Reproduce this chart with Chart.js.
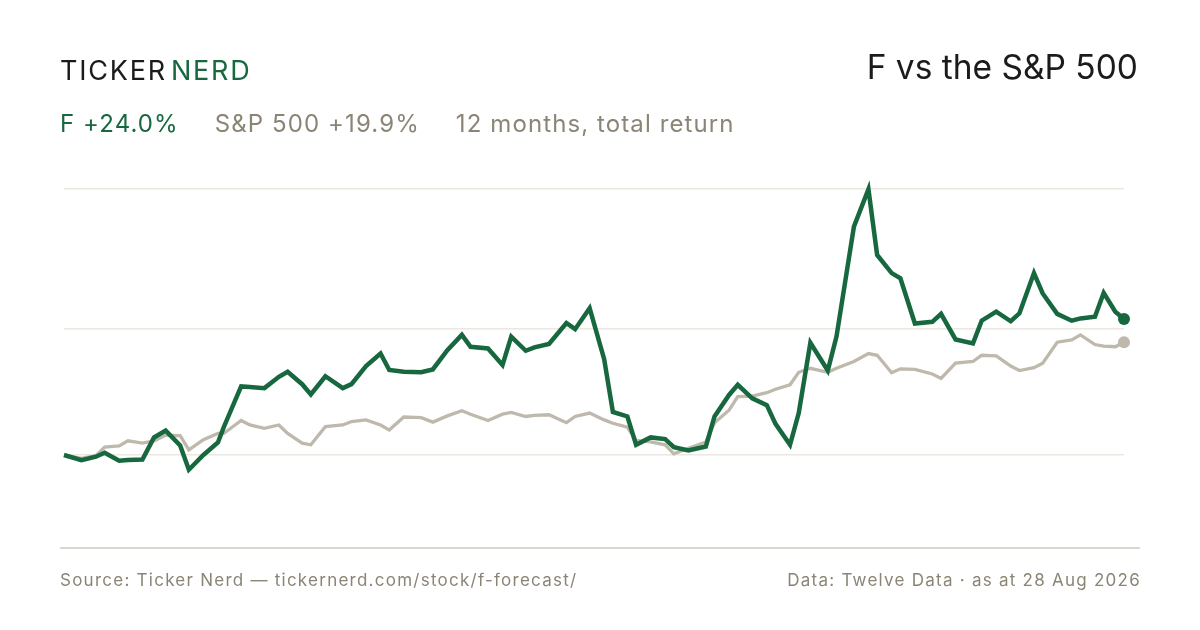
<!DOCTYPE html>
<html lang="en">
<head>
  <meta charset="UTF-8">
  <title>F vs the S&amp;P 500</title>
  <script src="https://cdn.jsdelivr.net/npm/chart.js@4.4.1/dist/chart.umd.min.js"></script>
  <style>
    html, body {
      margin: 0;
      padding: 0;
      background: #ffffff;
    }
    .card {
      position: relative;
      width: 1200px;
      height: 630px;
      overflow: hidden;
      font-family: "Inter", "Liberation Sans", sans-serif;
    }
    #chart {
      position: absolute;
      left: 0;
      top: 0;
    }
    .txt {
      position: absolute;
      line-height: 1;
      white-space: nowrap;
    }
    .logo { left: 60px; top: 57px; font-size: 27px; letter-spacing: 1.8px; color: #1b1b1b; }
    .logo .nerd { color: #17683f; margin-left: 4px; }
    .title { right: 62px; top: 51px; font-size: 33.5px; color: #1b1b1b; }
    .sub { left: 60px; top: 112px; font-size: 24px; letter-spacing: 1.1px; color: #8b8576; }
    .sub span { margin-right: 36px; }
    .sub .f { color: #17683f; }
    .rule { position: absolute; left: 60px; top: 547px; width: 1080px; height: 1.5px; background: #dcd8cf; }
    .foot { top: 572px; font-size: 17px; letter-spacing: 1.25px; color: #8b8576; }
    .foot.left { left: 60px; }
    .foot.right { right: 59px; }
  </style>
</head>
<body>
  <div class="card">
    <canvas id="chart" width="1200" height="630"></canvas>
    <div class="txt logo">TICKER<span class="nerd">NERD</span></div>
    <div class="txt title">F vs the S&amp;P 500</div>
    <div class="txt sub"><span class="f">F +24.0%</span><span>S&amp;P 500 +19.9%</span><span>12 months, total return</span></div>
    <div class="rule"></div>
    <div class="txt foot left">Source: Ticker Nerd — tickernerd.com/stock/f-forecast/</div>
    <div class="txt foot right">Data: Twelve Data · as at 28 Aug 2026</div>
  </div>

  <script>
    // calendar days since 28 Aug 2025
    const days = [
      0, 6, 11, 14, 19, 22, 27, 31, 35, 40, 43, 48, 53, 55, 61, 64, 69, 74, 77, 82,
      85, 90, 96, 99, 104, 109, 112, 117, 123, 127, 132, 137, 140, 146, 151, 154, 159, 162, 167, 173,
      176, 181, 186, 189, 194, 197, 202, 207, 210, 215, 221, 224, 229, 232, 237, 242, 245, 250, 253, 257,
      263, 266, 272, 277, 280, 285, 288, 293, 299, 302, 307, 313, 316, 321, 326, 329, 334, 337, 342, 347,
      350, 355, 358, 362, 365
    ];

    // total return, %
    const fReturn = [
      0, -0.9, -0.3, 0.4, -1.0, -0.9, -0.8, 3.1, 4.3, 1.7, -2.6, 0.0, 2.2, 4.9, 12.1, 12.0, 11.8, 13.8, 14.7, 12.5,
      10.7, 13.9, 11.8, 12.5, 15.7, 17.9, 15.0, 14.7, 14.6, 15.1, 18.5, 21.2, 19.1, 18.8, 15.9, 20.9, 18.4, 19.0, 19.6, 23.3,
      22.2, 25.9, 16.9, 7.6, 6.8, 1.8, 3.1, 2.8, 1.4, 0.8, 1.5, 6.8, 10.6, 12.4, 10.0, 8.8, 5.5, 1.8, 7.4, 19.8,
      14.9, 20.9, 40.3, 46.9, 35.3, 32.1, 31.2, 23.2, 23.5, 24.9, 20.4, 19.7, 23.7, 25.3, 23.6, 25.0, 32.1, 28.5, 24.9, 23.7,
      24.1, 24.4, 28.6, 25.3, 24.0
    ];

    const spReturn = [
      0, -0.6, -0.1, 1.4, 1.6, 2.5, 2.1, 2.5, 3.5, 3.4, 0.9, 2.7, 3.8, 3.8, 6.1, 5.3, 4.7, 5.3, 3.8, 2.1,
      1.8, 5.0, 5.3, 5.9, 6.2, 5.3, 4.4, 6.7, 6.6, 5.8, 6.9, 7.8, 7.2, 6.1, 7.2, 7.5, 6.8, 7.0, 7.1, 5.7,
      6.8, 7.4, 6.2, 5.6, 4.9, 2.6, 2.3, 1.8, 0.2, 1.2, 2.3, 5.7, 7.9, 10.3, 10.4, 11.0, 11.6, 12.4, 14.6, 15.3,
      14.6, 15.3, 16.5, 17.9, 17.6, 14.5, 15.2, 15.1, 14.3, 13.5, 16.2, 16.5, 17.6, 17.5, 15.7, 14.9, 15.4, 16.2, 19.9, 20.3,
      21.2, 19.5, 19.2, 19.1, 19.9
    ];

    const gridValues = [0, 22.2, 46.9];

    const green = "#17683f";
    const grey = "#bfb8ac";

    function points(values) {
      return days.map((d, i) => ({ x: d, y: values[i] }));
    }

    const lastDot = ctx => (ctx.dataIndex === days.length - 1 ? 6 : 0);

    new Chart(document.getElementById("chart"), {
      type: "line",
      data: {
        datasets: [
          {
            label: "F",
            data: points(fReturn),
            borderColor: green,
            backgroundColor: green,
            borderWidth: 4.5,
            pointRadius: lastDot,
            pointHoverRadius: 0,
            pointBorderWidth: 0,
            tension: 0,
            clip: false
          },
          {
            label: "S&P 500",
            data: points(spReturn),
            borderColor: grey,
            backgroundColor: grey,
            borderWidth: 3.3,
            pointRadius: lastDot,
            pointHoverRadius: 0,
            pointBorderWidth: 0,
            tension: 0,
            clip: false
          }
        ]
      },
      options: {
        responsive: false,
        animation: false,
        layout: {
          padding: { left: 64, right: 76, top: 171.67, bottom: 118.33 }
        },
        plugins: {
          legend: { display: false },
          tooltip: { enabled: false }
        },
        scales: {
          x: {
            type: "linear",
            min: 0,
            max: 365,
            display: false
          },
          y: {
            type: "linear",
            min: -10,
            max: 50,
            afterBuildTicks: axis => {
              axis.ticks = gridValues.map(v => ({ value: v }));
            },
            ticks: { display: false },
            border: { display: false },
            grid: {
              color: "#ebe8e2",
              lineWidth: 1.5,
              drawTicks: false
            }
          }
        }
      }
    });
  </script>
</body>
</html>
